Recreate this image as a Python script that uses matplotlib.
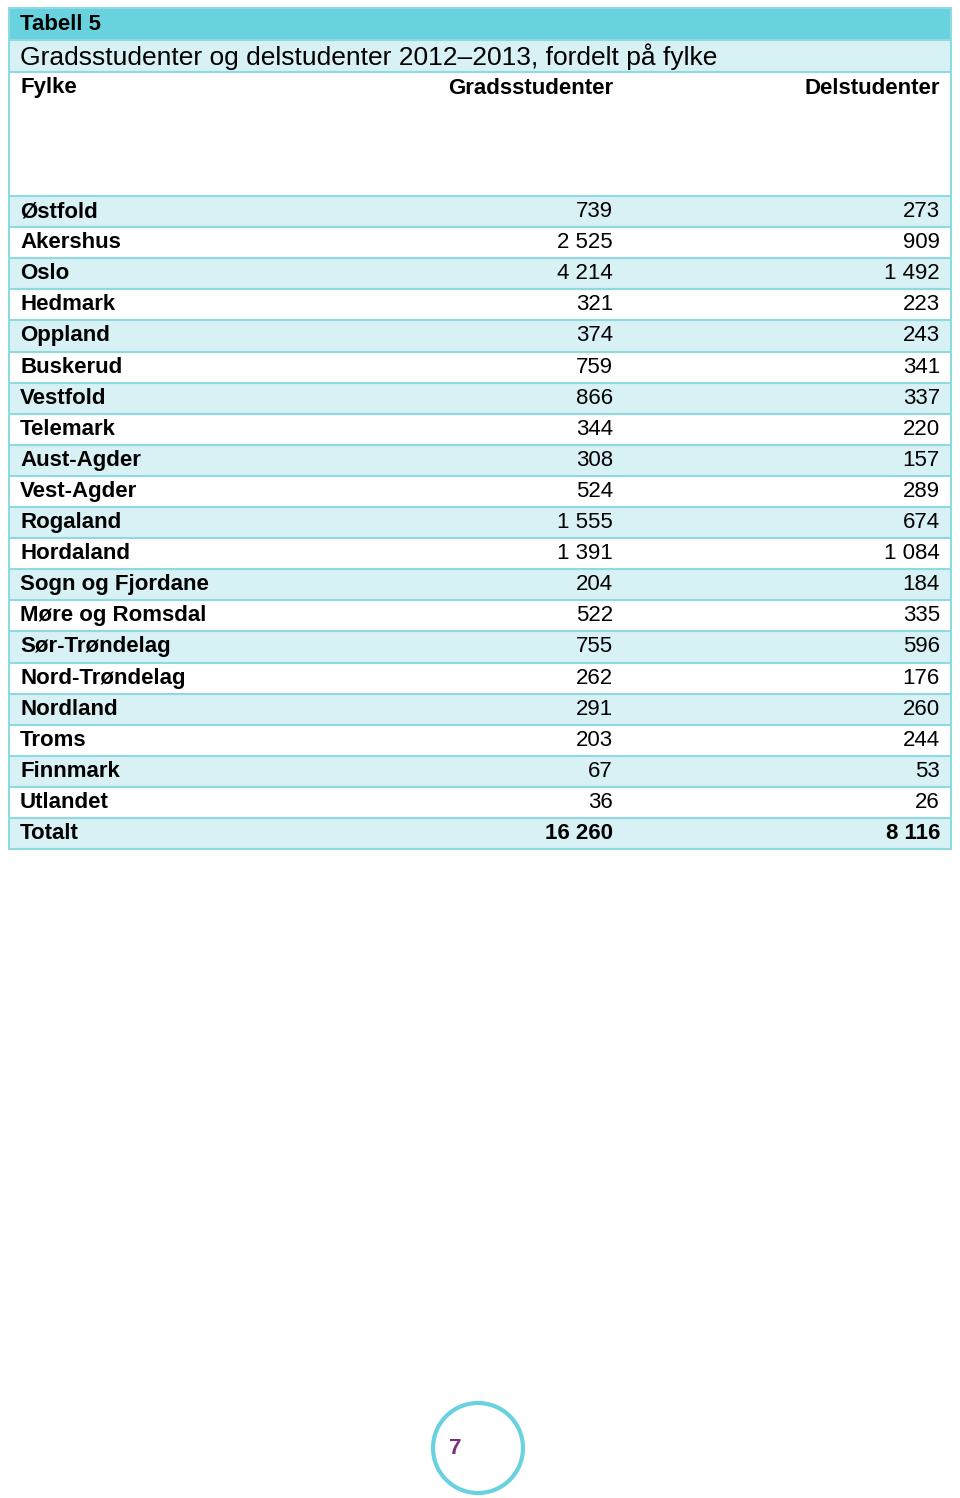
import matplotlib.pyplot as plt
from matplotlib.patches import Rectangle, Circle

plt.rcParams['font.family'] = ['Liberation Sans', 'DejaVu Sans']

fylker = ['Østfold', 'Akershus', 'Oslo', 'Hedmark', 'Oppland', 'Buskerud',
          'Vestfold', 'Telemark', 'Aust-Agder', 'Vest-Agder', 'Rogaland',
          'Hordaland', 'Sogn og Fjordane', 'Møre og Romsdal', 'Sør-Trøndelag',
          'Nord-Trøndelag', 'Nordland', 'Troms', 'Finnmark', 'Utlandet', 'Totalt']
grads = ['739', '2 525', '4 214', '321', '374', '759', '866', '344', '308',
         '524', '1 555', '1 391', '204', '522', '755', '262', '291', '203',
         '67', '36', '16 260']
del_stud = ['273', '909', '1 492', '223', '243', '341', '337', '220', '157',
            '289', '674', '1 084', '184', '335', '596', '176', '260', '244',
            '53', '26', '8 116']

title = 'Tabell 5'
subtitle = 'Gradsstudenter og delstudenter 2012–2013, fordelt på fylke'
headers = ['Fylke', 'Gradsstudenter', 'Delstudenter']

dark = '#68D2DF'
light = '#D8F1F5'
line = '#8ED9E2'

fig = plt.figure(figsize=(9.6, 14.98), dpi=100)
ax = fig.add_axes([0, 0, 1, 1])
ax.set_xlim(0, 960)
ax.set_ylim(1498, 0)
ax.axis('off')

left, right = 9, 951
top = 8
row_h = 31.1
body_top = 196
fs = 16

# title band
ax.add_patch(Rectangle((left, top), right - left, 32, color=dark, lw=0))
ax.text(20, top + 16, title, fontsize=fs, fontweight='bold', va='center')
# subtitle band
ax.add_patch(Rectangle((left, 40), right - left, 32, color=light, lw=0))
ax.text(20, 57, subtitle, fontsize=19, va='center')
ax.plot([left, right], [40, 40], color=line, lw=1.5)
ax.plot([left, right], [72, 72], color=line, lw=1.5)
# column headers
ax.text(20, 88, headers[0], fontsize=fs, fontweight='bold', va='center')
ax.text(613, 88, headers[1], fontsize=fs, fontweight='bold', va='center', ha='right')
ax.text(940, 88, headers[2], fontsize=fs, fontweight='bold', va='center', ha='right')

for i, (name, g, d) in enumerate(zip(fylker, grads, del_stud)):
    y0 = body_top + i * row_h
    if i % 2 == 0:
        ax.add_patch(Rectangle((left, y0), right - left, row_h, color=light, lw=0))
    ax.plot([left, right], [y0, y0], color=line, lw=1.5)
    yc = y0 + row_h / 2
    total = name == 'Totalt'
    ax.text(20, yc, name, fontsize=fs, fontweight='bold', va='center')
    ax.text(613, yc, g, fontsize=fs, va='center', ha='right',
            fontweight='bold' if total else 'normal')
    ax.text(940, yc, d, fontsize=fs, va='center', ha='right',
            fontweight='bold' if total else 'normal')

bottom = body_top + len(fylker) * row_h
ax.add_patch(Rectangle((left, top), right - left, bottom - top, fill=False,
                       edgecolor=line, lw=1.5))

# page number
ax.add_patch(Circle((478, 1448), 45, fill=False, edgecolor=dark, lw=3))
ax.text(455, 1449, '7', fontsize=16, fontweight='bold', color='#7B2D7E',
        ha='center', va='center')

fig.savefig('out.png', dpi=100)
